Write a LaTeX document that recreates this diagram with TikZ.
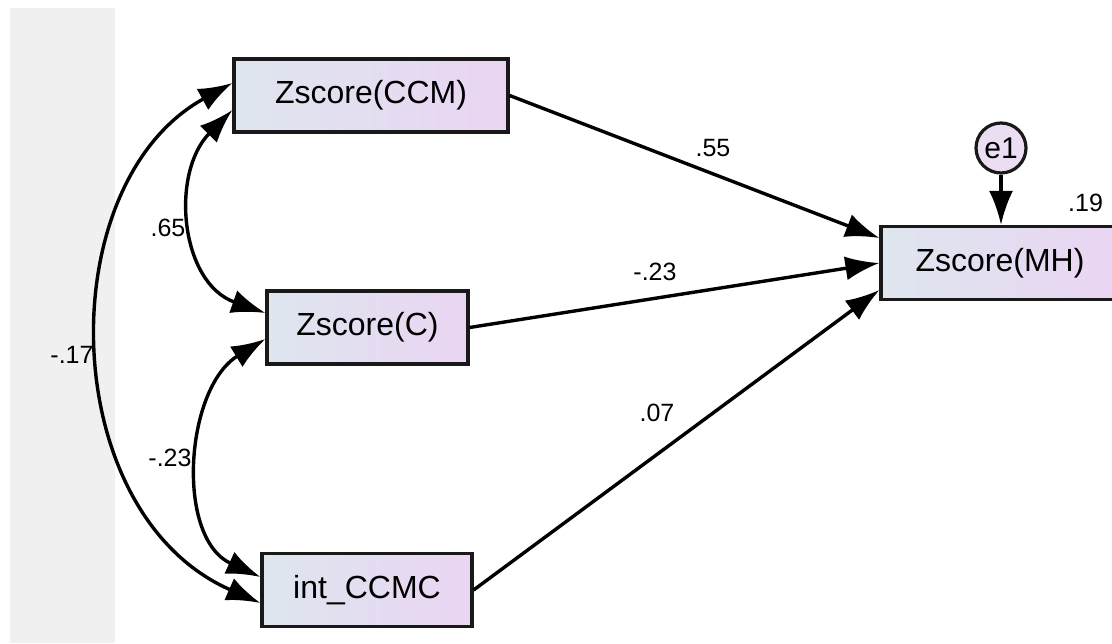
\documentclass[tikz,border=0pt]{standalone}
\usepackage{fontspec}
\setmainfont{Liberation Sans}
\usetikzlibrary{arrows.meta}
\definecolor{stripgray}{RGB}{240,240,240}
\definecolor{boxleft}{RGB}{222,230,238}
\definecolor{boxright}{RGB}{234,213,243}
\definecolor{errfill}{RGB}{236,222,242}
\definecolor{edge}{RGB}{25,25,25}

\begin{document}
\begin{tikzpicture}[x=0.5pt,y=0.5pt,
    var/.style={draw=edge,line width=1.6pt,left color=boxleft,right color=boxright,
        minimum height=36.5pt,inner sep=0pt,font=\fontsize{16}{18}\selectfont},
    err/.style={draw=edge,circle,line width=1.6pt,fill=errfill,minimum size=25pt,
        inner sep=0pt,font=\fontsize{15}{17}\selectfont},
    arr/.style={line width=1.7pt,-{Latex[length=17pt,width=12pt]}},
    cov/.style={line width=1.7pt,{Latex[length=17pt,width=12pt]}-{Latex[length=17pt,width=12pt]}},
    lbl/.style={font=\fontsize{12.5}{14}\selectfont}]
    \useasboundingbox (0,0) rectangle (1112,643);
    \fill [stripgray] (10,0) rectangle (115,635);

    \node [var,minimum width=137pt] (ccm) at (371,547.5) {Zscore(CCM)};
    \node [var,minimum width=100.5pt] (c) at (367.5,315.5) {Zscore(C)};
    \node [var,minimum width=105pt] (int) at (367,53) {int\_CCMC};
    \node [var,minimum width=119pt] (mh) at (1000,380) {Zscore(MH)};
    \node [err] (e1) at (1001,495) {e1};

    \draw [arr] (ccm.east) -- ([yshift=12.5pt]mh.west);
    \draw [arr] (c.east) -- (mh.west);
    \draw [arr] (int.east) -- ([yshift=-13.5pt]mh.west);
    \draw [arr] (e1) -- (mh.north -| e1);

    \draw [cov] ([yshift=-7.25pt]ccm.west) .. controls (170,470) and (180,360) .. ([yshift=7.25pt]c.west);
    \draw [cov] ([yshift=-5.75pt]c.west) .. controls (185,255) and (175,105) .. ([yshift=6.5pt]int.west);
    \draw [cov] ([yshift=6.25pt]ccm.west) .. controls (50,460) and (55,130) .. ([yshift=-6.5pt]int.west);

    \node [lbl] at (713,495) {.55};
    \node [lbl] at (655,371) {-.23};
    \node [lbl] at (657,230) {.07};
    \node [lbl,anchor=east] at (1110,440) {.19};
    \node [lbl] at (168,415) {.65};
    \node [lbl] at (170,185) {-.23};
    \node [lbl] at (72,288) {-.17};
\end{tikzpicture}
\end{document}
